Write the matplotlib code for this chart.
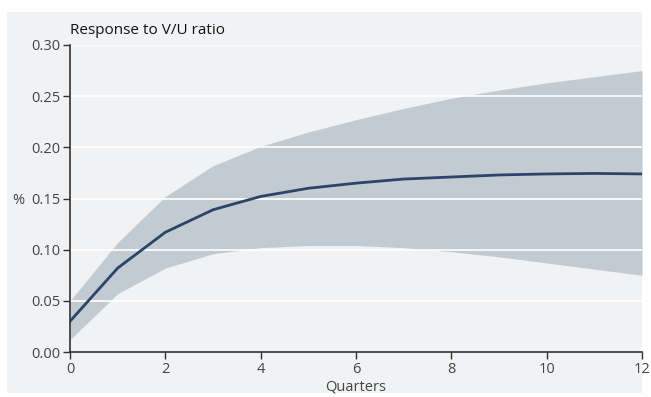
import matplotlib
matplotlib.use("Agg")
import matplotlib.pyplot as plt
from matplotlib.patches import Rectangle

quarters = [0, 1, 2, 3, 4, 5, 6, 7, 8, 9, 10, 11, 12]
response = [0.030, 0.082, 0.117, 0.139, 0.152, 0.160, 0.165, 0.169, 0.171, 0.173, 0.174, 0.1745, 0.174]
upper = [0.050, 0.107, 0.152, 0.182, 0.201, 0.215, 0.227, 0.238, 0.248, 0.256, 0.263, 0.269, 0.275]
lower = [0.012, 0.057, 0.082, 0.096, 0.102, 0.104, 0.104, 0.102, 0.098, 0.093, 0.087, 0.081, 0.075]
yticks = [0.00, 0.05, 0.10, 0.15, 0.20, 0.25, 0.30]
xticks = [0, 2, 4, 6, 8, 10, 12]

plt.rcParams['font.family'] = ['Open Sans', 'DejaVu Sans']

W, H = 651, 397
fig = plt.figure(figsize=(W/100, H/100), dpi=100)
fig.patch.set_facecolor('white')
bg = '#f0f2f4'
fig.patches.append(Rectangle((7/W, 1 - 393/H), (642-7)/W, (393-12)/H,
                             transform=fig.transFigure, facecolor=bg, edgecolor='none', zorder=-10))

ax = fig.add_axes([70/W, 1 - 352/H, (642-70)/W, (352-45)/H])
ax.set_zorder(1)
ax.set_facecolor(bg)
ax.fill_between(quarters, lower, upper, color='#c3cbd2', linewidth=0, zorder=2)
ax.plot(quarters, response, color='#2c4468', linewidth=2, zorder=4)

ax.set_xlim(0, 12)
ax.set_ylim(0, 0.30)
ax.set_xticks(xticks)
ax.set_yticks(yticks)
ax.set_yticklabels([f"{v:.2f}" for v in yticks])
for v in yticks[1:]:
    ax.axhline(v, color='white', linewidth=1.2, zorder=3)

for s in ['top', 'right']:
    ax.spines[s].set_visible(False)
for s in ['left', 'bottom']:
    ax.spines[s].set_color('#333333')
    ax.spines[s].set_linewidth(1.2)
    ax.spines[s].set_zorder(5)
ax.tick_params(axis='both', direction='out', length=5, width=1, color='#333333',
               labelsize=10.5, labelcolor='#444444', pad=2)

ax.set_xlabel('Quarters', fontsize=10.5, color='#444444', labelpad=2)
fig.text(12/W, 1 - 200/H, '%', fontsize=10.5, color='#444444', va='center', ha='left')
fig.text(70/W, 1 - 30/H, 'Response to V/U ratio', fontsize=11, color='#111111', va='center', ha='left')

fig.savefig('out.png', dpi=100, facecolor='white')
